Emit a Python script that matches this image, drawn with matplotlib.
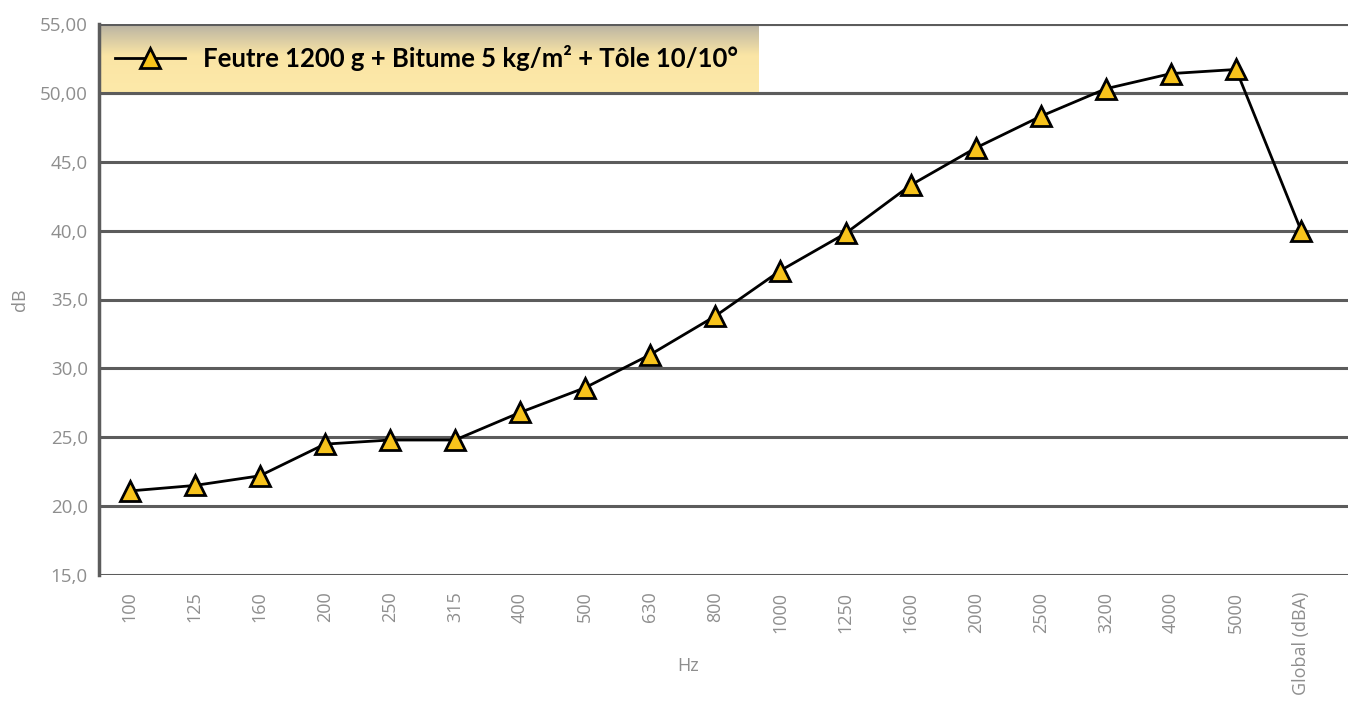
import numpy as np
import matplotlib
matplotlib.use('Agg')
import matplotlib.pyplot as plt
from matplotlib.colors import LinearSegmentedColormap

plt.rcParams['font.family'] = ['Open Sans', 'DejaVu Sans']

freqs = ['100', '125', '160', '200', '250', '315', '400', '500', '630', '800',
         '1000', '1250', '1600', '2000', '2500', '3200', '4000', '5000', 'Global (dBA)']
db_values = [21.1, 21.5, 22.2, 24.5, 24.8, 24.8, 26.8, 28.6, 31.0, 33.8,
             37.1, 39.8, 43.3, 46.0, 48.3, 50.3, 51.4, 51.7, 40.0]
yticks = [15, 20, 25, 30, 35, 40, 45, 50, 55]
ytick_labels = ['15,0', '20,0', '25,0', '30,0', '35,0', '40,0', '45,0', '50,00', '55,00']
serie_label = 'Feutre 1200 g + Bitume 5 kg/m² + Tôle 10/10°'

grey_txt = '#8e8e8e'
grid_col = '#5c5c5c'

fig = plt.figure(figsize=(13.51, 7.02), dpi=100)
ax = fig.add_axes([99/1351, 1 - 575/702, (1348-99)/1351, (575-24)/702])

x = np.arange(len(freqs))
ax.set_xlim(-0.47, len(freqs) - 1 + 0.72)

for yv in yticks:
    ax.axhline(yv, color=grid_col, lw=2.2, zorder=1)

# cadre de legende en degrade
cmap = LinearSegmentedColormap.from_list('leg', [(0, '#b9b3a3'), (0.45, '#fae5a5'), (1, '#fde9a9')])
grad = np.linspace(0, 1, 100).reshape(-1, 1)
x_right = (759 - 99) / ((1348 - 99) / (len(freqs) - 1 + 0.72 + 0.47)) - 0.47
ax.imshow(grad, cmap=cmap, aspect='auto', extent=[-0.47, x_right, 50, 55],
          origin='upper', zorder=2)
ax.plot([-0.22, 0.85], [52.5, 52.5], color='black', lw=2, zorder=3)
ax.plot([0.31], [52.5], marker='^', ms=15, mfc='#f7c31c', mec='black', mew=2, zorder=4)
ax.text(1.13, 52.5, serie_label, fontsize=18.5, fontweight='bold', color='black',
        va='center', ha='left', family=['Lato', 'DejaVu Sans'], zorder=4)
ax.axhline(55, color=grid_col, lw=2.2, zorder=3)
ax.axhline(50, color=grid_col, lw=2.2, zorder=3)

ax.plot(x, db_values, color='black', lw=2, marker='^', ms=15,
        mfc='#f7c31c', mec='black', mew=2, zorder=5, clip_on=False)

ax.set_xlim(-0.47, len(freqs) - 1 + 0.72)
ax.set_ylim(15, 55)
ax.set_yticks(yticks)
ax.set_yticklabels(ytick_labels)
ax.set_xticks(x)
ax.set_xticklabels(freqs, rotation=90)
ax.tick_params(axis='y', length=0, pad=8, labelsize=13.5, labelcolor=grey_txt)
ax.tick_params(axis='x', length=0, pad=12, labelsize=13, labelcolor=grey_txt)

for s in ['top', 'right', 'bottom']:
    ax.spines[s].set_visible(False)
ax.spines['left'].set_color(grid_col)
ax.spines['left'].set_linewidth(2.5)
ax.spines['left'].set_zorder(6)

fig.text(20/1351, 1 - 300/702, 'dB', rotation=90, fontsize=13, color=grey_txt, ha='center', va='center')
fig.text(688/1351, 1 - 666/702, 'Hz', fontsize=13, color=grey_txt, ha='center', va='center')

fig.savefig('out.png', dpi=100)
